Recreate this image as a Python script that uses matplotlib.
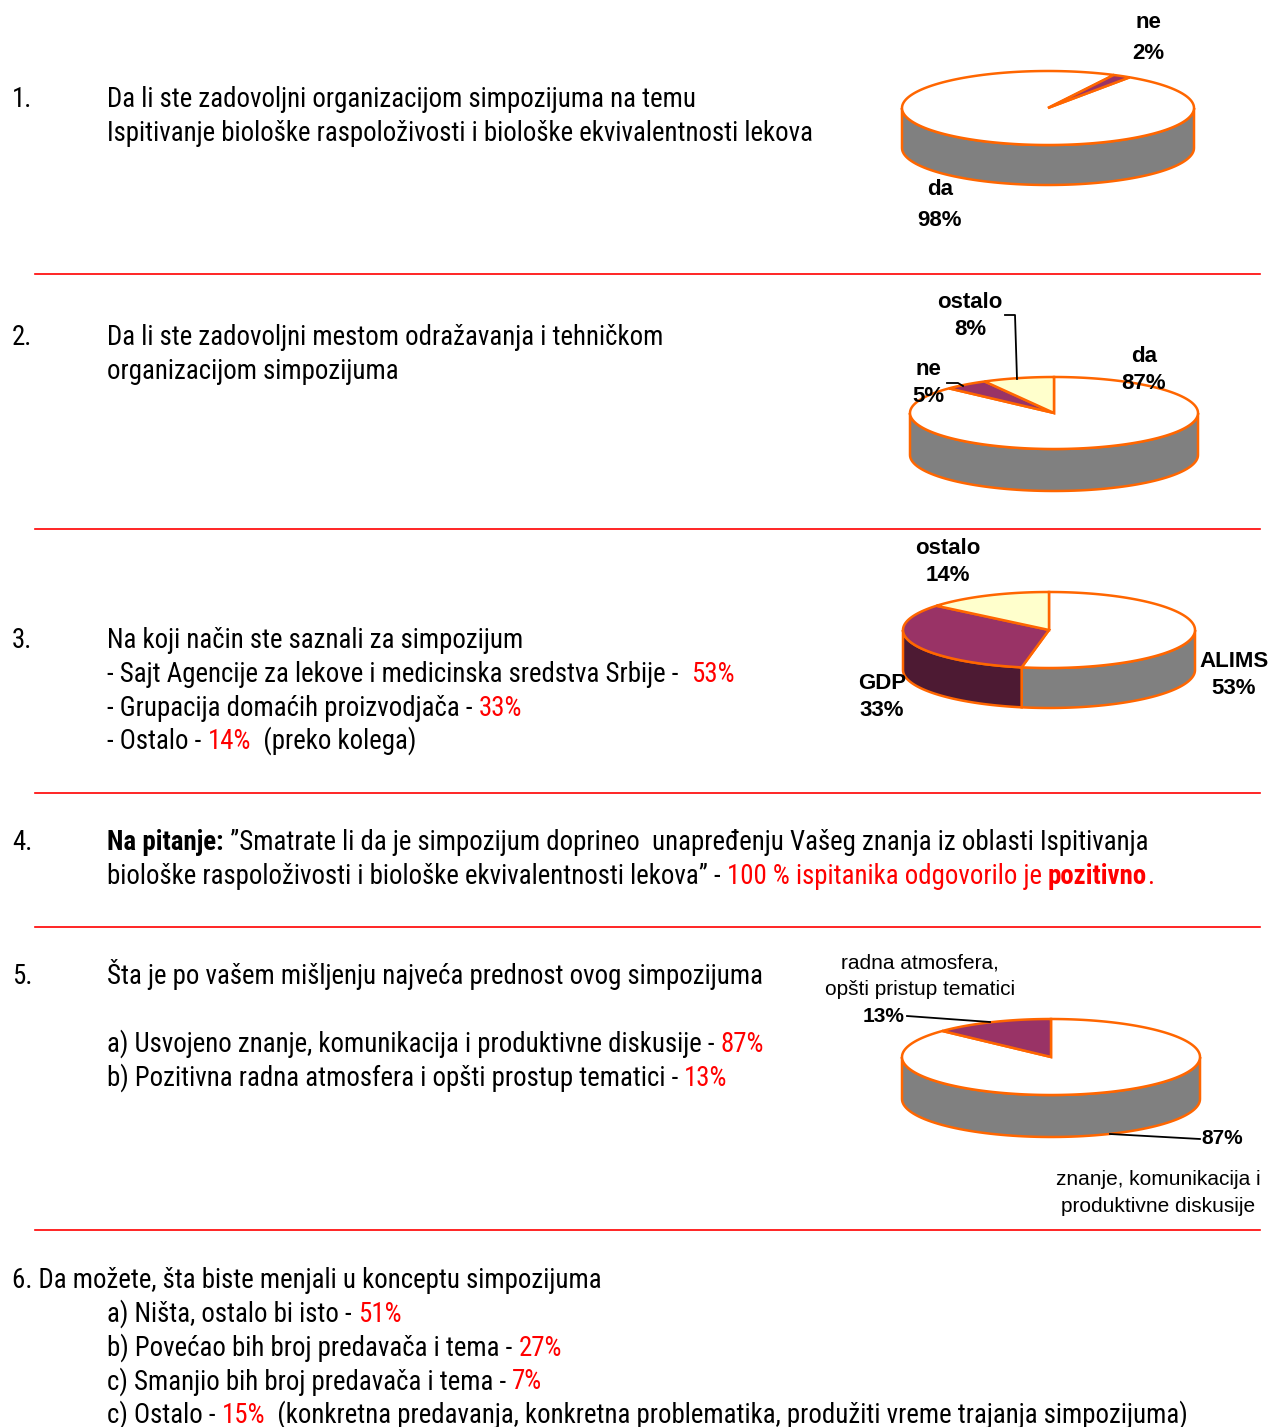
import numpy as np
import matplotlib
matplotlib.use('Agg')
import matplotlib.pyplot as plt
from matplotlib import font_manager
from matplotlib.font_manager import FontProperties
from matplotlib.patches import Polygon
from matplotlib.colors import to_rgb

# podaci
q1_labels = ['da', 'ne']
q1_values = [98, 2]
q2_labels = ['da', 'ne', 'ostalo']
q2_values = [87, 5, 8]
q3_labels = ['ALIMS', 'GDP', 'ostalo']
q3_values = [53, 33, 14]
q5_labels = ['znanje, komunikacija i\nproduktivne diskusije', 'radna atmosfera,\nopšti pristup tematici']
q5_values = [87, 13]
q6_options = ['a) Ništa, ostalo bi isto - ', 'b) Povećao bih broj predavača i tema - ',
              'c) Smanjio bih broj predavača i tema - ', 'c) Ostalo - ']
q6_values = [51, 27, 7, 15]

WHITE, PURPLE, YELLOW = '#FFFFFF', '#993366', '#FFFFCC'
EDGE = '#FF6600'
RED = '#FF0000'


def bold_ok(name):
    # font postoji i ima pravu bold varijantu
    try:
        reg = font_manager.findfont(FontProperties(family=name), fallback_to_default=False)
        bld = font_manager.findfont(FontProperties(family=name, weight='bold'), fallback_to_default=False)
        return reg != bld
    except Exception:
        return False


# uski font za tekst (kao Arial Narrow)
BODY = 'DejaVu Sans'
for cand in ['Liberation Sans Narrow', 'Arimo Narrow', 'Roboto Condensed', 'PT Sans Narrow',
             'Archivo Narrow', 'Open Sans Condensed']:
    if bold_ok(cand):
        BODY = cand
        break
LBL = 'Liberation Sans'

W, H = 1272, 1427
fig = plt.figure(figsize=(W / 100, H / 100), dpi=100)
ax = fig.add_axes([0, 0, 1, 1])
ax.set_xlim(0, W)
ax.set_ylim(H, 0)
ax.axis('off')
renderer = fig.canvas.get_renderer()


def width_of(s, **kw):
    t = ax.text(0, 0, '|' + s + '|', **kw)
    w1 = t.get_window_extent(renderer).width
    t.remove()
    t = ax.text(0, 0, '||', **kw)
    w2 = t.get_window_extent(renderer).width
    t.remove()
    return w1 - w2


# velicina fonta tako da prvi red bude sirok kao u originalu (~590 px)
_w = width_of('Da li ste zadovoljni organizacijom simpozijuma na temu', family=BODY, fontsize=17)
BODY_SIZE = 17 * 590.0 / _w


def line(x, y, parts):
    # parts: (tekst, boja, tezina)
    for s, c, wgt in parts:
        kw = dict(family=BODY, fontsize=BODY_SIZE, fontweight=wgt)
        ax.text(x, y, s, color=c, va='baseline', ha='left', **kw)
        x += width_of(s, **kw)


def pie3d(values, colors, cx, cy, rx, ry, depth, start):
    total = float(sum(values))
    a0 = start
    wedges = []
    for v, c in zip(values, colors):
        a1 = a0 - 360.0 * v / total
        wedges.append((a1, a0, c))
        a0 = a1
    # bocne strane (prednja polovina)
    for a1, a0, c in wedges:
        dark = tuple(0.5 * np.array(to_rgb(c)))
        for k in range(-2, 2):
            lo = max(a1, 180 + 360 * k)
            hi = min(a0, 360 + 360 * k)
            if hi > lo:
                t = np.radians(np.linspace(lo, hi, 80))
                xs = cx + rx * np.cos(t)
                ys = cy - ry * np.sin(t)
                pts = np.vstack([np.column_stack([xs, ys]),
                                 np.column_stack([xs[::-1], ys[::-1] + depth])])
                ax.add_patch(Polygon(pts, closed=True, fc=dark, ec=EDGE, lw=1.8, zorder=2))
    # gornja povrsina
    for a1, a0, c in wedges:
        t = np.radians(np.linspace(a1, a0, 200))
        pts = np.vstack([[cx, cy], np.column_stack([cx + rx * np.cos(t), cy - ry * np.sin(t)])])
        ax.add_patch(Polygon(pts, closed=True, fc=c, ec=EDGE, lw=1.8, zorder=3,
                             joinstyle='miter'))


def plabel(x, y, s, bold=True, size=16, ls=1.4):
    ax.text(x, y, s, family=LBL, fontsize=size, fontweight='bold' if bold else 'normal',
            ha='center', va='center', color='black', linespacing=ls, zorder=5)


# crvene linije
for yy in [274, 529, 793, 927, 1230]:
    ax.plot([35, 1260], [yy, yy], color=RED, lw=1.2)

K = 'black'
N = 'normal'
B = 'bold'

# 1.
line(12, 107, [('1.', K, N)])
line(107, 107, [('Da li ste zadovoljni organizacijom simpozijuma na temu', K, N)])
line(107, 141, [('Ispitivanje biološke raspoloživosti i biološke ekvivalentnosti lekova', K, N)])
pie3d(q1_values, [WHITE, PURPLE], 1048, 108, 146, 37, 40, 56)
plabel(1148, 38, f'{q1_labels[1]}\n{q1_values[1]}%', ls=1.6)
plabel(940, 205, f'{q1_labels[0]}\n{q1_values[0]}%', ls=1.6)

# 2.
line(12, 345, [('2.', K, N)])
line(107, 345, [('Da li ste zadovoljni mestom odražavanja i tehničkom', K, N)])
line(107, 379, [('organizacijom simpozijuma', K, N)])
pie3d(q2_values, [WHITE, PURPLE, YELLOW], 1054, 413, 144, 36, 42, 90)
plabel(970, 316, f'{q2_labels[2]}\n{q2_values[2]}%', ls=1.4)
plabel(928, 383, f'{q2_labels[1]}\n{q2_values[1]}%', ls=1.4)
plabel(1144, 370, f'{q2_labels[0]}\n{q2_values[0]}%', ls=1.4)
ax.plot([1005, 1015, 1017], [315, 315, 379], color='black', lw=1.3, zorder=6)
ax.plot([947, 958, 963], [383, 383, 386], color='black', lw=1.3, zorder=6)

# 3.
line(12, 648, [('3.', K, N)])
line(107, 648, [('Na koji način ste saznali za simpozijum', K, N)])
line(107, 682, [('- Sajt Agencije za lekove i medicinska sredstva Srbije -  ', K, N),
                (f'{q3_values[0]}%', RED, N)])
line(107, 716, [('- Grupacija domaćih proizvodjača - ', K, N), (f'{q3_values[1]}%', RED, N)])
line(107, 749, [('- Ostalo - ', K, N), (f'{q3_values[2]}%', RED, N), ('  (preko kolega)', K, N)])
pie3d(q3_values, [WHITE, PURPLE, YELLOW], 1049, 630, 146, 38, 40, 90)
plabel(948, 562, f'{q3_labels[2]}\n{q3_values[2]}%', ls=1.35)
plabel(1234, 675, f'{q3_labels[0]}\n{q3_values[0]}%', ls=1.35)
plabel(882, 697, f'{q3_labels[1]}\n{q3_values[1]}%', ls=1.35)

# 4.
line(12, 850, [('4.', K, N)])
line(107, 850, [('Na pitanje:', K, B),
                (' ”Smatrate li da je simpozijum doprineo  unapređenju Vašeg znanja iz oblasti Ispitivanja', K, N)])
line(107, 884, [('biološke raspoloživosti i biološke ekvivalentnosti lekova” - ', K, N),
                ('100 % ispitanika odgovorilo je ', RED, N), ('pozitivno', RED, B), ('.', RED, N)])

# 5.
line(12, 984, [('5.', K, N)])
line(107, 984, [('Šta je po vašem mišljenju najveća prednost ovog simpozijuma', K, N)])
line(107, 1052, [('a) Usvojeno znanje, komunikacija i produktivne diskusije - ', K, N),
                 (f'{q5_values[0]}%', RED, N)])
line(107, 1086, [('b) Pozitivna radna atmosfera i opšti prostup tematici - ', K, N),
                 (f'{q5_values[1]}%', RED, N)])
pie3d(q5_values, [WHITE, PURPLE], 1051, 1057, 149, 38, 42, 90)
plabel(920, 976, q5_labels[1], bold=False, size=15, ls=1.5)
plabel(884, 1016, f'{q5_values[1]}%', size=15)
plabel(1222, 1139, f'{q5_values[0]}%', size=15)
plabel(1158, 1193, q5_labels[0], bold=False, size=15, ls=1.5)
ax.plot([907, 990], [1016, 1022], color='black', lw=1.3, zorder=6)
ax.plot([1110, 1200], [1134, 1139], color='black', lw=1.3, zorder=6)

# 6.
line(12, 1288, [('6. Da možete, šta biste menjali u konceptu simpozijuma', K, N)])
for i, (opt, v) in enumerate(zip(q6_options, q6_values)):
    parts = [(opt, K, N), (f'{v}%', RED, N)]
    if i == 3:
        parts.append(('  (konkretna predavanja, konkretna problematika, produžiti vreme trajanja simpozijuma)', K, N))
    line(107, 1322 + i * 33.7, parts)

fig.savefig('out.png', dpi=100)
